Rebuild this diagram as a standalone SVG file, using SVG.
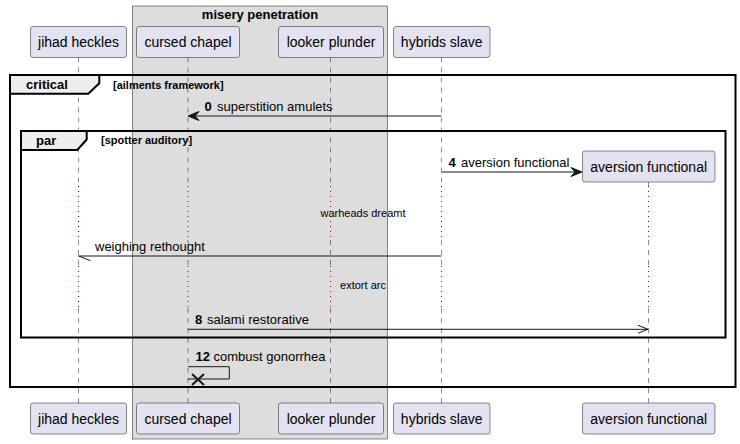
<svg xmlns="http://www.w3.org/2000/svg" width="740" height="444" viewBox="0 0 740 444">
<style>
text{font-family:"Liberation Sans",Arial,sans-serif;fill:#000}
.p rect{fill:#E2E2F0;stroke:#181818;stroke-width:0.5}
.p text{font-size:14px;text-anchor:middle}
.ll{stroke:#181818;stroke-width:0.5;stroke-dasharray:5,5;fill:none}
.dl{stroke:#A80036;stroke-width:1;stroke-dasharray:1,4;fill:none}
.msg{stroke:#181818;stroke-width:1;fill:none}
.lbl{font-size:13px}
.num{font-weight:bold}
.frame{fill:none;stroke:#000;stroke-width:2}
.tab{fill:#EEEEEE;stroke:#000;stroke-width:2}
.ft{font-size:13px;font-weight:bold}
.fc{font-size:11px;font-weight:bold}
.dt{font-size:11px;text-anchor:middle}
</style>
<g id="box-misery-penetration">
<rect x="132.5" y="6" width="255" height="433" fill="#DDDDDD" stroke="#181818" stroke-width="0.5"/>
<text x="260" y="19" font-size="13" font-weight="bold" text-anchor="middle">misery penetration</text>
</g>
<g id="lifelines">
<path class="ll" d="M78.5,57.5V186M78.5,240V266M78.5,308V403"/>
<path class="ll" d="M188,57.5V186M188,240V266M188,308V403"/>
<path class="ll" d="M330.5,57.5V186M330.5,240V266M330.5,308V403"/>
<path class="ll" d="M441.5,57.5V186M441.5,240V266M441.5,308V403"/>
<path class="ll" d="M648.5,182V186M648.5,240V266M648.5,308V403"/>
<path class="dl" d="M78.5,186V240M78.5,266V308"/>
<path class="dl" d="M188,186V240M188,266V308"/>
<path class="dl" d="M330.5,186V240M330.5,266V308"/>
<path class="dl" d="M441.5,186V240M441.5,266V308"/>
<path class="dl" d="M648.5,186V240M648.5,266V308"/>
</g>
<g id="jihad-heckles" class="p">
<rect x="30.5" y="26.5" width="96" height="31" rx="2.5"/>
<text x="78.5" y="47">jihad heckles</text>
<rect x="30.5" y="403" width="96" height="31" rx="2.5"/>
<text x="78.5" y="424">jihad heckles</text>
</g>
<g id="cursed-chapel" class="p">
<rect x="136.5" y="26.5" width="103" height="31" rx="2.5"/>
<text x="188" y="47">cursed chapel</text>
<rect x="136.5" y="403" width="103" height="31" rx="2.5"/>
<text x="188" y="424">cursed chapel</text>
</g>
<g id="looker-plunder" class="p">
<rect x="278.5" y="26.5" width="105" height="31" rx="2.5"/>
<text x="331" y="47">looker plunder</text>
<rect x="278.5" y="403" width="105" height="31" rx="2.5"/>
<text x="331" y="424">looker plunder</text>
</g>
<g id="hybrids-slave" class="p">
<rect x="393.5" y="26.5" width="96.5" height="31" rx="2.5"/>
<text x="441.7" y="47">hybrids slave</text>
<rect x="393.5" y="403" width="96.5" height="31" rx="2.5"/>
<text x="441.7" y="424">hybrids slave</text>
</g>
<g id="aversion-functional" class="p">
<rect x="582.5" y="151" width="132.5" height="31" rx="2.5"/>
<text x="648.7" y="172">aversion functional</text>
<rect x="582.5" y="403" width="132.5" height="31" rx="2.5"/>
<text x="648.7" y="424">aversion functional</text>
</g>
<g id="frame-critical">
<rect class="frame" x="10" y="75" width="725.5" height="312"/>
<path class="tab" d="M10,75H99.3V83.3L88.3,93.7H10Z"/>
<text class="ft" x="26" y="89">critical</text>
<text class="fc" x="113" y="89">[ailments framework]</text>
</g>
<g id="frame-par">
<rect class="frame" x="21" y="131" width="704.5" height="206.5"/>
<path class="tab" d="M21,131H86.7V139.5L77.3,150H21Z"/>
<text class="ft" x="36" y="145">par</text>
<text class="fc" x="101" y="144">[spotter auditory]</text>
</g>
<g id="delays">
<text class="dt" x="363" y="217">warheads dreamt</text>
<text class="dt" x="363" y="289">extort arc</text>
</g>
<g id="connectors">
<line class="msg" x1="441.5" y1="116" x2="190" y2="116"/>
<polygon points="188,116,199,111.5,195,116,199,120.5" fill="#181818" stroke="#181818" stroke-width="1"/>
<text class="lbl" y="111"><tspan class="num" x="204.5">0</tspan><tspan x="217">superstition amulets</tspan></text>

<line class="msg" x1="441.5" y1="172" x2="579" y2="172"/>
<polygon points="582,172,571,167.5,575,172,571,176.5" fill="#181818" stroke="#181818" stroke-width="1"/>
<text class="lbl" y="167"><tspan class="num" x="448.5">4</tspan><tspan x="461">aversion functional</tspan></text>

<line class="msg" x1="441.5" y1="256" x2="78.5" y2="256"/>
<line class="msg" x1="78.5" y1="256" x2="90.5" y2="260.7"/>
<text class="lbl" x="95" y="251">weighing rethought</text>

<line class="msg" x1="188" y1="329.3" x2="648" y2="329.3"/>
<path class="msg" d="M638,325.3L648,329.3L638,333.3"/>
<text class="lbl" y="324"><tspan class="num" x="195">8</tspan><tspan x="207">salami restorative</tspan></text>

<path class="msg" d="M188,366.7H229.3V379H188"/>
<path d="M192,374L204,385M204,374L192,385" stroke="#181818" stroke-width="2" fill="none"/>
<text class="lbl" y="361"><tspan class="num" x="195.5">12</tspan><tspan x="213.5">combust gonorrhea</tspan></text>
</g>
</svg>
